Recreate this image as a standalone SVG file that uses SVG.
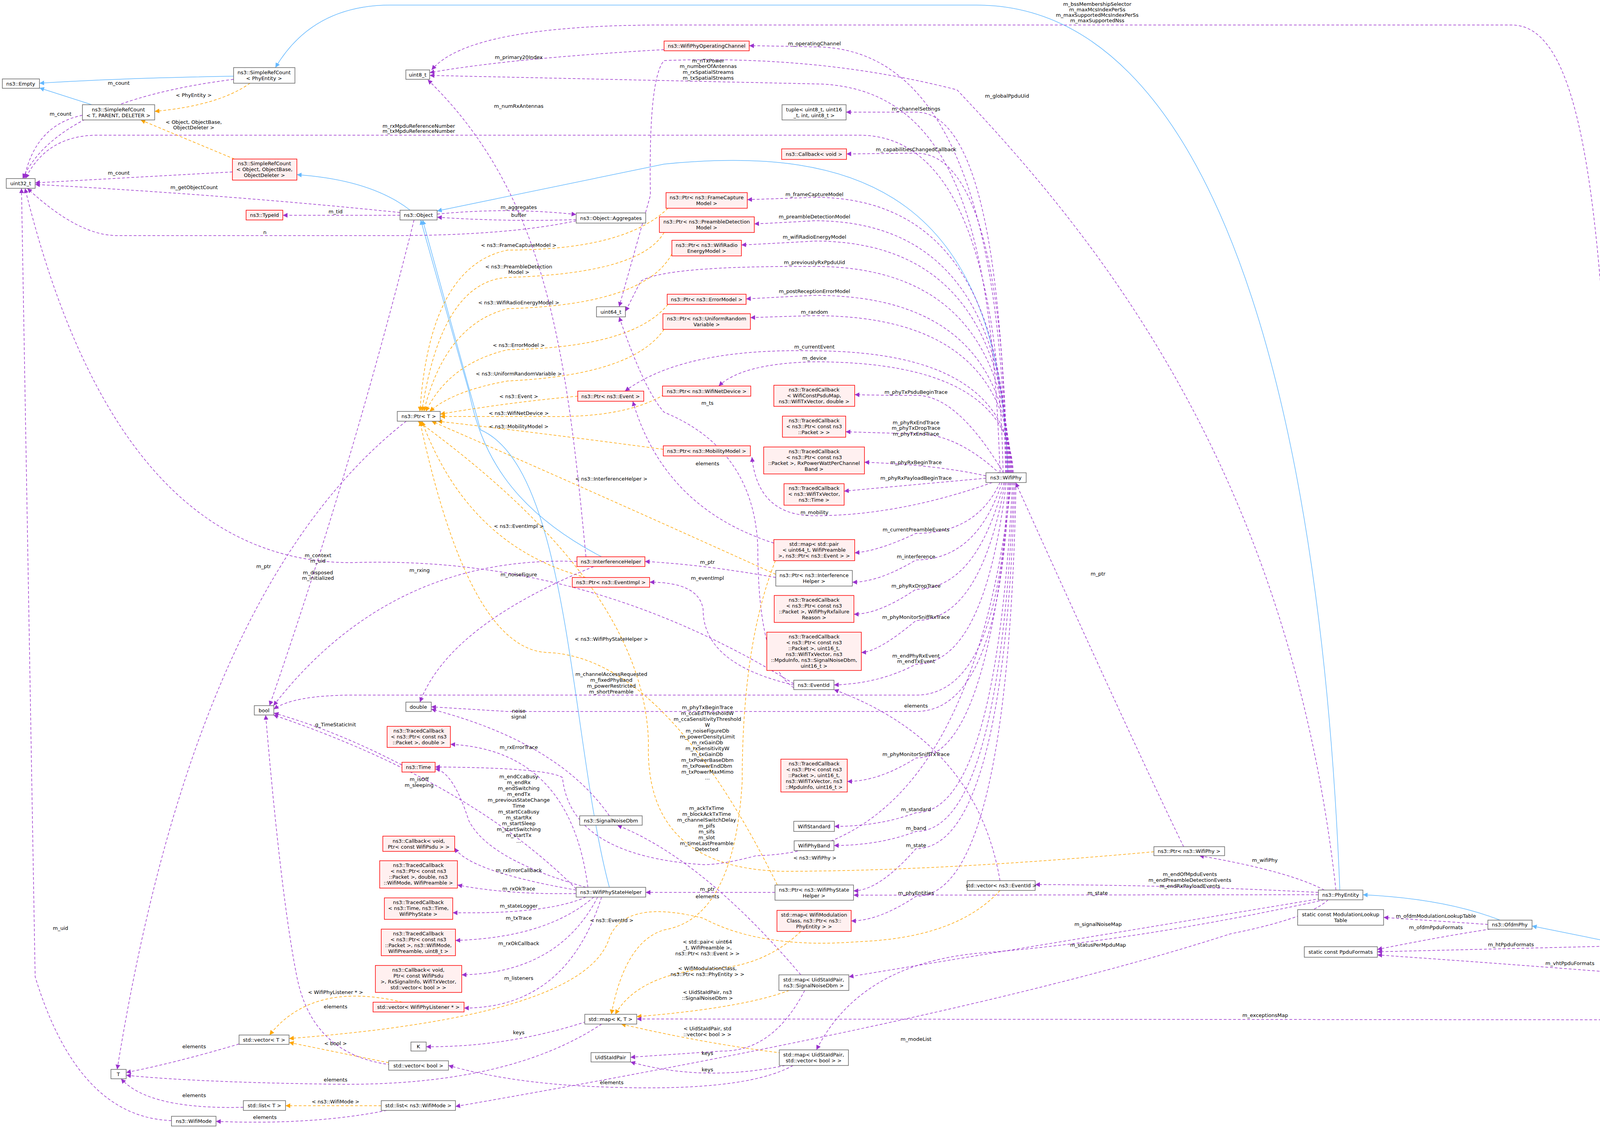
<svg xmlns="http://www.w3.org/2000/svg" width="4355" height="2887" viewBox="0 0 4355 2887">
<style>
text{font-family:"DejaVu Sans","Liberation Sans",sans-serif;font-size:13px;fill:#000;text-anchor:middle}
.n rect{fill:#fff;stroke:#666;stroke-width:1.5}
.r rect{fill:#fff0f0;stroke:#ff0000;stroke-width:1.5}
.g rect{fill:#999;stroke:#666;stroke-width:1.5}
.p{fill:none;stroke:#9a32cd;stroke-width:1.5;stroke-dasharray:7,5;marker-end:url(#mp)}
.o{fill:none;stroke:#ffa500;stroke-width:1.5;stroke-dasharray:7,5;marker-end:url(#mo)}
.b{fill:none;stroke:#63b8ff;stroke-width:1.5;marker-end:url(#mb)}
</style>
<defs>
<marker id="mp" viewBox="0 0 10 10" refX="10" refY="5" markerWidth="12" markerHeight="12" markerUnits="userSpaceOnUse" orient="auto"><path d="M0,0L10,5L0,10z" fill="#9a32cd"/></marker>
<marker id="mo" viewBox="0 0 10 10" refX="10" refY="5" markerWidth="12" markerHeight="12" markerUnits="userSpaceOnUse" orient="auto"><path d="M0,0L10,5L0,10z" fill="#ffa500"/></marker>
<marker id="mb" viewBox="0 0 10 10" refX="10" refY="5" markerWidth="12" markerHeight="12" markerUnits="userSpaceOnUse" orient="auto"><path d="M0,0L10,5L0,10z" fill="#63b8ff"/></marker>
</defs>
<rect width="4355" height="2887" fill="#fff"/>
<g id="connectors">
<!-- inheritance -->
<path class="b" d="M598,195 Q300,200 101,213"/>
<path class="b" d="M235,268 L101,225"/>
<path class="b" d="M1050,538 Q950,460 760,447"/>
<path class="b" d="M2580,1210 C2560,500 2200,370 1700,420 L1119,540"/>
<path class="b" d="M3430,2278 C3380,1000 3100,13 2500,13 L1000,13 Q800,13 705,173"/>
<path class="b" d="M1540,1425 C1300,1300 1230,1150 1200,1000 L1077,563"/>
<path class="b" d="M1560,2271 C1460,1900 1460,1200 1230,1100 L1082,563"/>
<path class="b" d="M3840,2355 Q3700,2300 3489,2290"/>
<path class="b" d="M4120,2410 L3922,2370"/>
<path class="b" d="M4273,2485 L4180,2433"/>
<!-- uint32_t etc -->
<path class="p" d="M598,203 Q150,260 58,457"/>
<path class="p" d="M211,295 Q90,320 62,457"/>
<path class="p" d="M595,440 L90,468"/>
<path class="p" d="M1024,544 Q600,500 90,472"/>
<path class="p" d="M1475,565 Q1300,603 1000,603 L300,603 Q200,603 70,482"/>
<path class="p" d="M439,2868 Q200,2860 90,2500 L55,482"/>
<path class="p" d="M2568,1210 Q2550,346 2200,346 L250,346 Q120,346 65,457"/>
<path class="p" d="M2032,1750 Q1500,1420 900,1440 Q300,1440 64,482"/>
<path class="p" d="M1024,551 L724,551"/>
<path class="p" d="M1119,548 Q1300,530 1475,549"/>
<path class="p" d="M1475,562 Q1300,568 1119,556"/>
<path class="p" d="M1060,563 Q900,1200 690,1806"/>
<path class="p" d="M1040,1078 Q500,1500 300,2737"/>
<path class="o" d="M640,213 Q560,270 396,285"/>
<path class="o" d="M600,407 L360,307"/>
<!-- uint8_t -->
<path class="p" d="M1700,127 Q1300,150 1100,186"/>
<path class="p" d="M4150,2410 C4130,800 4100,64 3870,64 L1700,64 Q1200,64 1105,179"/>
<path class="p" d="M1500,1425 C1450,900 1400,500 1095,204"/>
<path class="p" d="M2560,1210 C2540,600 2450,230 2100,215 L1100,193"/>
<path class="p" d="M3420,2278 C3300,1200 2800,600 2450,230 Q2100,140 1700,155 Q1660,200 1665,500 L1585,785"/>
<!-- WifiPhy outgoing -->
<path class="p" d="M2574,1210 Q2560,120 2085,120 Q2000,118 1918,117"/>
<path class="p" d="M2576,1210 Q2560,287 2345,287 L2166,287"/>
<path class="p" d="M2578,1210 Q2565,392 2345,392 L2167,394"/>
<path class="p" d="M2580,1210 Q2568,505 2085,505 Q2000,508 1913,511"/>
<path class="p" d="M2582,1210 Q2570,565 2085,565 Q2000,570 1931,573"/>
<path class="p" d="M2584,1210 Q2572,617 2085,617 Q2000,622 1898,627"/>
<path class="p" d="M2586,1210 Q2574,682 2085,682 Q1700,680 1640,720 Q1610,780 1601,797"/>
<path class="p" d="M2588,1210 Q2576,756 2085,756 Q2000,760 1910,765"/>
<path class="p" d="M2590,1210 Q2578,808 2085,808 Q2000,810 1921,813"/>
<path class="p" d="M2592,1210 Q2580,900 2085,898 Q1750,890 1600,1001"/>
<path class="p" d="M2594,1210 Q2582,926 2085,926 Q1900,930 1840,988"/>
<path class="p" d="M2570,1212 Q2450,1010 2345,1012 Q2260,1012 2188,1010"/>
<path class="p" d="M2560,1213 Q2450,1110 2345,1110 Q2250,1108 2165,1105"/>
<path class="p" d="M2524,1218 Q2400,1190 2213,1183"/>
<path class="p" d="M2524,1224 Q2400,1235 2161,1257"/>
<path class="p" d="M2540,1235 Q2300,1320 2085,1320 Q1940,1320 1925,1170"/>
<path class="p" d="M2560,1235 Q2500,1365 2345,1365 Q2250,1410 2188,1415"/>
<path class="p" d="M2565,1235 Q2500,1433 2345,1433 Q2250,1490 2182,1490"/>
<path class="p" d="M2570,1235 Q2500,1508 2345,1508 Q2250,1572 2186,1572"/>
<path class="p" d="M2573,1235 Q2510,1588 2345,1588 Q2250,1668 2205,1670"/>
<path class="p" d="M2576,1235 Q2520,1700 2345,1700 Q2250,1750 2135,1753"/>
<path class="p" d="M2580,1235 Q2560,1779 2345,1779 L900,1779 Q750,1780 701,1815"/>
<path class="p" d="M2583,1235 Q2560,1821 2345,1821 L1300,1821 Q1150,1812 1104,1809"/>
<path class="p" d="M2586,1235 Q2530,1940 2345,1940 Q2250,2000 2169,2000"/>
<path class="p" d="M2589,1235 Q2480,2180 1936,2190 Q1850,2213 1800,2213 Q1460,2190 1440,1990 Q1400,1965 1114,1963"/>
<path class="p" d="M2592,1235 Q2550,2080 2345,2080 Q2250,2115 2136,2115"/>
<path class="p" d="M2595,1235 Q2560,2128 2345,2128 Q2250,2164 2135,2164"/>
<path class="p" d="M2598,1235 Q2570,2172 2345,2172 Q2250,2280 2185,2280"/>
<path class="p" d="M2601,1235 Q2580,2294 2345,2294 Q2250,2357 2179,2357"/>
<!-- Ptr<T> template -->
<path class="o" d="M1710,533 Q1600,640 1300,640 Q1100,680 1075,1053"/>
<path class="o" d="M1700,595 Q1640,700 1300,710 Q1130,720 1080,1053"/>
<path class="o" d="M1720,650 Q1650,780 1300,790 Q1140,830 1085,1053"/>
<path class="o" d="M1710,779 Q1620,890 1300,895 Q1150,930 1090,1053"/>
<path class="o" d="M1700,843 Q1620,960 1300,975 Q1160,1000 1100,1053"/>
<path class="o" d="M1479,1014 Q1300,1030 1127,1060"/>
<path class="o" d="M1700,1010 Q1600,1070 1400,1066 L1127,1066"/>
<path class="o" d="M1698,1150 Q1400,1110 1120,1078"/>
<path class="o" d="M1986,1470 Q1500,1250 1105,1078"/>
<path class="o" d="M1500,1478 Q1200,1400 1080,1078"/>
<path class="o" d="M1990,2265 Q1700,1680 1400,1670 Q1200,1660 1075,1078"/>
<path class="o" d="M2954,2180 Q2400,2230 2000,2230 Q1650,2220 1660,1900 Q1650,1500 1070,1078"/>
<!-- misc -->
<path class="p" d="M1477,1437 Q1000,1420 700,1806"/>
<path class="p" d="M1520,1450 Q1150,1600 1075,1797"/>
<path class="p" d="M1986,1478 Q1800,1445 1651,1437"/>
<path class="p" d="M2032,1753 Q1800,1700 1800,1560 Q1790,1490 1663,1490"/>
<path class="p" d="M1981,1390 Q1700,1300 1620,1027"/>
<path class="p" d="M2032,1760 Q1940,1700 1940,1400 Q1930,1150 1700,1055 Q1650,1000 1585,811"/>
<path class="p" d="M2560,2254 Q2500,1900 2135,1765"/>
<path class="p" d="M1984,2284 L1653,2284"/>
<path class="p" d="M1475,2275 Q1200,2000 700,1830"/>
<path class="p" d="M1500,2271 Q1250,2200 1200,2100 Q1160,1975 1114,1968"/>
<path class="p" d="M1029,1958 Q860,1870 701,1825"/>
<path class="p" d="M1560,2088 Q1430,1900 1104,1815"/>
<path class="p" d="M1505,2271 Q1460,1920 1153,1905"/>
<path class="p" d="M1475,2278 Q1200,2230 1164,2170"/>
<path class="p" d="M1475,2287 Q1300,2290 1171,2265"/>
<path class="p" d="M1500,2296 Q1400,2340 1159,2336"/>
<path class="p" d="M1520,2296 Q1400,2400 1166,2407"/>
<path class="p" d="M1530,2296 Q1430,2490 1182,2495"/>
<path class="p" d="M1540,2296 Q1450,2580 1188,2580"/>
<path class="p" d="M2050,2495 Q1800,2200 1580,2112"/>
<!-- map<K,T> templates -->
<path class="o" d="M1985,1435 Q1900,1650 1900,2000 Q1880,2350 1700,2380 Q1600,2410 1565,2596"/>
<path class="o" d="M2050,2384 Q1950,2480 1800,2480 Q1630,2500 1575,2596"/>
<path class="o" d="M2020,2535 Q1900,2580 1630,2602"/>
<path class="o" d="M2000,2695 Q1800,2670 1590,2621"/>
<path class="o" d="M2560,2279 Q2450,2400 2200,2410 Q1950,2430 1800,2350 Q1600,2300 1560,2400 Q1500,2600 740,2658"/>
<path class="o" d="M1030,2565 Q800,2510 690,2649"/>
<path class="o" d="M995,2720 L740,2668"/>
<path class="o" d="M976,2830 L731,2830"/>
<path class="p" d="M612,2672 Q450,2720 323,2745"/>
<path class="p" d="M1540,2621 Q1300,2780 860,2775 Q500,2770 323,2752"/>
<path class="p" d="M623,2834 Q380,2840 310,2761"/>
<path class="p" d="M1500,2615 Q1300,2680 1091,2679"/>
<path class="p" d="M1000,2725 Q800,2700 760,2500 Q720,2300 680,1830"/>
<path class="p" d="M990,2842 Q800,2880 553,2870"/>
<path class="p" d="M2060,2535 Q1980,2690 1850,2690 Q1700,2700 1614,2706"/>
<path class="p" d="M2010,2727 Q1800,2770 1614,2718"/>
<path class="p" d="M2030,2727 Q1900,2800 1500,2780 Q1300,2770 1148,2727"/>
<!-- PhyEntity etc -->
<path class="p" d="M3390,2278 Q3300,2230 3070,2190"/>
<path class="p" d="M3375,2284 Q3000,2265 2650,2264"/>
<path class="p" d="M3375,2290 L2185,2291"/>
<path class="p" d="M3380,2300 Q2900,2380 2173,2500"/>
<path class="p" d="M3390,2303 Q2900,2410 2500,2440 Q2200,2470 2090,2687"/>
<path class="p" d="M3400,2303 Q3350,2350 3150,2390 Q2500,2600 1166,2832"/>
<path class="p" d="M4250,2498 Q3900,2470 3526,2444"/>
<path class="p" d="M4106,2422 L3526,2436"/>
<path class="p" d="M3809,2366 L3542,2348"/>
<path class="p" d="M3815,2378 Q3700,2395 3526,2430"/>
<path class="p" d="M4290,2511 Q4220,2610 4150,2610 L1630,2608"/>
<path class="p" d="M3030,2167 Q2900,1900 2600,1235"/>
</g>
<g id="labels">
<text x="304" y="217">m_count</text>
<text x="496" y="248">&lt; PhyEntity &gt;</text>
<text x="155" y="296">m_count</text>
<text x="496" y="317">&lt; Object, ObjectBase,</text><text x="496" y="331">ObjectDeleter &gt;</text>
<text x="1072" y="327">m_rxMpduReferenceNumber</text><text x="1072" y="340">m_txMpduReferenceNumber</text>
<text x="1328" y="151">m_primary20Index</text>
<text x="1328" y="276">m_numRxAntennas</text>
<text x="304" y="447">m_count</text>
<text x="497" y="484">m_getObjectCount</text>
<text x="859" y="546">m_tid</text>
<text x="1328" y="535">m_aggregates</text>
<text x="1328" y="555">buffer</text>
<text x="678" y="599">n</text>
<text x="1328" y="632">&lt; ns3::FrameCaptureModel &gt;</text>
<text x="1328" y="687">&lt; ns3::PreambleDetection</text><text x="1328" y="701">Model &gt;</text>
<text x="1328" y="779">&lt; ns3::WifiRadioEnergyModel &gt;</text>
<text x="1328" y="888">&lt; ns3::ErrorModel &gt;</text>
<text x="1328" y="961">&lt; ns3::UniformRandomVariable &gt;</text>
<text x="2809" y="15">m_bssMembershipSelector</text><text x="2809" y="29">m_maxMcsIndexPerSs</text><text x="2809" y="43">m_maxSupportedMcsIndexPerSs</text><text x="2809" y="57">m_maxSupportedNss</text>
<text x="2085" y="116">m_operatingChannel</text>
<text x="1813" y="160">m_nTxPower</text><text x="1813" y="174">m_numberOfAntennas</text><text x="1813" y="189">m_rxSpatialStreams</text><text x="1813" y="204">m_txSpatialStreams</text>
<text x="2578" y="250">m_globalPpduUid</text>
<text x="2345" y="283">m_channelSettings</text>
<text x="2345" y="387">m_capabilitiesChangedCallback</text>
<text x="2085" y="502">m_frameCaptureModel</text>
<text x="2085" y="559">m_preambleDetectionModel</text>
<text x="2085" y="611">m_wifiRadioEnergyModel</text>
<text x="2085" y="676">m_previouslyRxPpduUid</text>
<text x="2085" y="750">m_postReceptionErrorModel</text>
<text x="2085" y="803">m_random</text>
<text x="2085" y="892">m_currentEvent</text>
<text x="2085" y="921">m_device</text>
<text x="1328" y="1019">&lt; ns3::Event &gt;</text>
<text x="1328" y="1062">&lt; ns3::WifiNetDevice &gt;</text>
<text x="1328" y="1096">&lt; ns3::MobilityModel &gt;</text>
<text x="1811" y="1036">m_ts</text>
<text x="2345" y="1008">m_phyTxPsduBeginTrace</text>
<text x="2345" y="1086">m_phyRxEndTrace</text><text x="2345" y="1100">m_phyTxDropTrace</text><text x="2345" y="1115">m_phyTxEndTrace</text>
<text x="2345" y="1188">m_phyRxBeginTrace</text>
<text x="2345" y="1228">m_phyRxPayloadBeginTrace</text>
<text x="1811" y="1191">elements</text>
<text x="1565" y="1230">&lt; ns3::InterferenceHelper &gt;</text>
<text x="2085" y="1316">m_mobility</text>
<text x="2345" y="1360">m_currentPreambleEvents</text>
<text x="2345" y="1429">m_interference</text>
<text x="1811" y="1443">m_ptr</text>
<text x="1811" y="1484">m_eventImpl</text>
<text x="2345" y="1504">m_phyRxDropTrace</text>
<text x="2345" y="1584">m_phyMonitorSniffRxTrace</text>
<text x="1328" y="1351">&lt; ns3::EventImpl &gt;</text>
<text x="1074" y="1464">m_rxing</text>
<text x="1328" y="1475">m_noiseFigure</text>
<text x="675" y="1454">m_ptr</text>
<text x="814" y="1426">m_context</text><text x="814" y="1440">m_uid</text>
<text x="814" y="1470">m_disposed</text><text x="814" y="1484">m_initialized</text>
<text x="1565" y="1640">&lt; ns3::WifiPhyStateHelper &gt;</text>
<text x="2345" y="1683">m_endPhyRxEvent</text><text x="2345" y="1697">m_endTxEvent</text>
<text x="1565" y="1730">m_channelAccessRequested</text><text x="1565" y="1745">m_fixedPhyBand</text><text x="1565" y="1760">m_powerRestricted</text><text x="1565" y="1775">m_shortPreamble</text>
<text x="2345" y="1811">elements</text>
<text x="1811" y="1815">m_phyTxBeginTrace</text><text x="1811" y="1830">m_ccaEdThresholdW</text><text x="1811" y="1845">m_ccaSensitivityThreshold</text><text x="1811" y="1860">W</text><text x="1811" y="1875">m_noiseFigureDb</text><text x="1811" y="1890">m_powerDensityLimit</text><text x="1811" y="1905">m_rxGainDb</text><text x="1811" y="1920">m_rxSensitivityW</text><text x="1811" y="1935">m_txGainDb</text><text x="1811" y="1950">m_txPowerBaseDbm</text><text x="1811" y="1965">m_txPowerEndDbm</text><text x="1811" y="1980">m_txPowerMaxMimo</text><text x="1811" y="1995">...</text>
<text x="2345" y="1935">m_phyMonitorSniffTxTrace</text>
<text x="1328" y="1824">noise</text><text x="1328" y="1839">signal</text>
<text x="859" y="1859">g_TimeStaticInit</text>
<text x="1328" y="1917">m_rxErrorTrace</text>
<text x="1073" y="1999">m_isOff</text><text x="1073" y="2014">m_sleeping</text>
<text x="1328" y="1992">m_endCcaBusy</text><text x="1328" y="2007">m_endRx</text><text x="1328" y="2022">m_endSwitching</text><text x="1328" y="2037">m_endTx</text><text x="1328" y="2052">m_previousStateChange</text><text x="1328" y="2067">Time</text><text x="1328" y="2082">m_startCcaBusy</text><text x="1328" y="2097">m_startRx</text><text x="1328" y="2112">m_startSleep</text><text x="1328" y="2127">m_startSwitching</text><text x="1328" y="2142">m_startTx</text><text x="1328" y="2157">...</text>
<text x="1809" y="2073">m_ackTxTime</text><text x="1809" y="2088">m_blockAckTxTime</text><text x="1809" y="2103">m_channelSwitchDelay</text><text x="1809" y="2118">m_pifs</text><text x="1809" y="2133">m_sifs</text><text x="1809" y="2148">m_slot</text><text x="1809" y="2163">m_timeLastPreamble</text><text x="1809" y="2178">Detected</text>
<text x="2345" y="2076">m_standard</text>
<text x="2345" y="2124">m_band</text>
<text x="2345" y="2168">m_state</text>
<text x="2086" y="2200">&lt; ns3::WifiPhy &gt;</text>
<text x="1328" y="2232">m_rxErrorCallback</text>
<text x="1328" y="2279">m_rxOkTrace</text>
<text x="1811" y="2280">m_ptr</text><text x="1811" y="2299">elements</text>
<text x="2345" y="2290">m_phyEntities</text>
<text x="2810" y="2290">m_state</text>
<text x="1328" y="2323">m_stateLogger</text>
<text x="1328" y="2354">m_txTrace</text>
<text x="1566" y="2360">&lt; ns3::EventId &gt;</text>
<text x="2811" y="2370">m_signalNoiseMap</text>
<text x="2811" y="2423">m_statusPerMpduMap</text>
<text x="1328" y="2419">m_rxOkCallback</text>
<text x="1811" y="2415">&lt; std::pair&lt; uint64</text><text x="1811" y="2430">_t, WifiPreamble &gt;,</text><text x="1811" y="2445">ns3::Ptr&lt; ns3::Event &gt; &gt;</text>
<text x="1811" y="2483">&lt; WifiModulationClass,</text><text x="1811" y="2498">ns3::Ptr&lt; ns3::PhyEntity &gt; &gt;</text>
<text x="1328" y="2508">m_listeners</text>
<text x="859" y="2544">&lt; WifiPhyListener * &gt;</text>
<text x="1811" y="2544">&lt; UidStaIdPair, ns3</text><text x="1811" y="2559">::SignalNoiseDbm &gt;</text>
<text x="859" y="2581">elements</text>
<text x="155" y="2380">m_uid</text>
<text x="2811" y="1473">m_ptr</text>
<text x="3238" y="2206">m_wifiPhy</text>
<text x="3046" y="2242">m_endOfMpduEvents</text><text x="3046" y="2257">m_endPreambleDetectionEvents</text><text x="3046" y="2272">m_endRxPayloadEvents</text>
<text x="3676" y="2349">m_ofdmModulationLookupTable</text>
<text x="3676" y="2378">m_ofdmPpduFormats</text>
<text x="3868" y="2422">m_htPpduFormats</text>
<text x="4019" y="2470">m_vhtPpduFormats</text>
<text x="3239" y="2603">m_exceptionsMap</text>
<text x="1811" y="2637">&lt; UidStaIdPair, std</text><text x="1811" y="2652">::vector&lt; bool &gt; &gt;</text>
<text x="2345" y="2664">m_modeList</text>
<text x="1328" y="2647">keys</text>
<text x="859" y="2675">&lt; bool &gt;</text>
<text x="497" y="2683">elements</text>
<text x="1811" y="2700">keys</text>
<text x="1811" y="2742">keys</text>
<text x="859" y="2768">elements</text>
<text x="1566" y="2775">elements</text>
<text x="497" y="2808">elements</text>
<text x="859" y="2824">&lt; ns3::WifiMode &gt;</text>
<text x="678" y="2864">elements</text>
</g>
<g id="Empty" class="n"><rect x="6" y="202" width="95" height="24"/><text x="53" y="219">ns3::Empty</text></g>
<g id="SRC_PhyEntity" class="n"><rect x="598" y="173" width="157" height="40"/><text x="676" y="190">ns3::SimpleRefCount</text><text x="676" y="205">&lt; PhyEntity &gt;</text></g>
<g id="SRC_T" class="n"><rect x="211" y="268" width="185" height="39"/><text x="303" y="285">ns3::SimpleRefCount</text><text x="303" y="300">&lt; T, PARENT, DELETER &gt;</text></g>
<g id="uint8" class="n"><rect x="1039" y="179" width="61" height="24"/><text x="1069" y="196">uint8_t</text></g>
<g id="SRC_Object" class="r"><rect x="595" y="407" width="165" height="54"/><text x="677" y="423">ns3::SimpleRefCount</text><text x="677" y="438">&lt; Object, ObjectBase,</text><text x="677" y="453">ObjectDeleter &gt;</text></g>
<g id="uint32" class="n"><rect x="16" y="457" width="74" height="25"/><text x="53" y="474">uint32_t</text></g>
<g id="TypeId" class="r"><rect x="630" y="538" width="94" height="25"/><text x="677" y="555">ns3::TypeId</text></g>
<g id="Object" class="n"><rect x="1024" y="538" width="95" height="25"/><text x="1071" y="555">ns3::Object</text></g>
<g id="Aggregates" class="n"><rect x="1475" y="545" width="178" height="26"/><text x="1564" y="563">ns3::Object::Aggregates</text></g>
<g id="uint64" class="n"><rect x="1527" y="785" width="74" height="26"/><text x="1564" y="803">uint64_t</text></g>
<g id="OpChannel" class="r"><rect x="1700" y="105" width="218" height="25"/><text x="1809" y="122">ns3::WifiPhyOperatingChannel</text></g>
<g id="tuple" class="n"><rect x="2002" y="268" width="164" height="39"/><text x="2084" y="285">tuple&lt; uint8_t, uint16</text><text x="2084" y="300">_t, int, uint8_t &gt;</text></g>
<g id="CbVoid" class="r"><rect x="2001" y="381" width="166" height="27"/><text x="2084" y="399">ns3::Callback&lt; void &gt;</text></g>
<g id="PtrFrame" class="r"><rect x="1705" y="493" width="208" height="40"/><text x="1809" y="510">ns3::Ptr&lt; ns3::FrameCapture</text><text x="1809" y="525">Model &gt;</text></g>
<g id="PtrPreamble" class="r"><rect x="1688" y="555" width="243" height="40"/><text x="1809" y="572">ns3::Ptr&lt; ns3::PreambleDetection</text><text x="1809" y="587">Model &gt;</text></g>
<g id="PtrEnergy" class="r"><rect x="1720" y="615" width="178" height="40"/><text x="1809" y="632">ns3::Ptr&lt; ns3::WifiRadio</text><text x="1809" y="647">EnergyModel &gt;</text></g>
<g id="PtrError" class="r"><rect x="1708" y="753" width="202" height="26"/><text x="1809" y="771">ns3::Ptr&lt; ns3::ErrorModel &gt;</text></g>
<g id="PtrRandom" class="r"><rect x="1697" y="803" width="224" height="40"/><text x="1809" y="820">ns3::Ptr&lt; ns3::UniformRandom</text><text x="1809" y="835">Variable &gt;</text></g>
<g id="PtrT" class="n"><rect x="1017" y="1053" width="110" height="25"/><text x="1072" y="1070">ns3::Ptr&lt; T &gt;</text></g>
<g id="PtrEvent" class="r"><rect x="1479" y="1001" width="169" height="26"/><text x="1563" y="1019">ns3::Ptr&lt; ns3::Event &gt;</text></g>
<g id="PtrNetDev" class="r"><rect x="1696" y="988" width="226" height="26"/><text x="1809" y="1006">ns3::Ptr&lt; ns3::WifiNetDevice &gt;</text></g>
<g id="TcPsdu" class="r"><rect x="1981" y="986" width="207" height="54"/><text x="2084" y="1002">ns3::TracedCallback</text><text x="2084" y="1017">&lt; WifiConstPsduMap,</text><text x="2084" y="1032">ns3::WifiTxVector, double &gt;</text></g>
<g id="TcPacket" class="r"><rect x="2003" y="1065" width="162" height="54"/><text x="2084" y="1081">ns3::TracedCallback</text><text x="2084" y="1096">&lt; ns3::Ptr&lt; const ns3</text><text x="2084" y="1111">::Packet &gt; &gt;</text></g>
<g id="TcRxPower" class="r"><rect x="1955" y="1144" width="258" height="69"/><text x="2084" y="1160">ns3::TracedCallback</text><text x="2084" y="1175">&lt; ns3::Ptr&lt; const ns3</text><text x="2084" y="1190">::Packet &gt;, RxPowerWattPerChannel</text><text x="2084" y="1205">Band &gt;</text></g>
<g id="TcTxVecTime" class="r"><rect x="2007" y="1238" width="154" height="55"/><text x="2084" y="1254">ns3::TracedCallback</text><text x="2084" y="1269">&lt; ns3::WifiTxVector,</text><text x="2084" y="1284">ns3::Time &gt;</text></g>
<g id="PtrMobility" class="r"><rect x="1698" y="1141" width="223" height="26"/><text x="1809" y="1159">ns3::Ptr&lt; ns3::MobilityModel &gt;</text></g>
<g id="WifiPhy" class="n"><rect x="2524" y="1210" width="103" height="25"/><text x="2575" y="1227">ns3::WifiPhy</text></g>
<g id="MapPair" class="r"><rect x="1981" y="1381" width="207" height="54"/><text x="2084" y="1397">std::map&lt; std::pair</text><text x="2084" y="1412">&lt; uint64_t, WifiPreamble</text><text x="2084" y="1427">&gt;, ns3::Ptr&lt; ns3::Event &gt; &gt;</text></g>
<g id="InterfHelper" class="r"><rect x="1477" y="1425" width="174" height="25"/><text x="1564" y="1442">ns3::InterferenceHelper</text></g>
<g id="PtrEventImpl" class="r"><rect x="1465" y="1478" width="198" height="25"/><text x="1564" y="1495">ns3::Ptr&lt; ns3::EventImpl &gt;</text></g>
<g id="PtrInterf" class="n"><rect x="1986" y="1460" width="196" height="40"/><text x="2084" y="1477">ns3::Ptr&lt; ns3::Interference</text><text x="2084" y="1492">Helper &gt;</text></g>
<g id="TcRxFail" class="r"><rect x="1982" y="1524" width="204" height="69"/><text x="2084" y="1540">ns3::TracedCallback</text><text x="2084" y="1555">&lt; ns3::Ptr&lt; const ns3</text><text x="2084" y="1570">::Packet &gt;, WifiPhyRxfailure</text><text x="2084" y="1585">Reason &gt;</text></g>
<g id="TcMpduSnd" class="r"><rect x="1963" y="1618" width="242" height="98"/><text x="2084" y="1634">ns3::TracedCallback</text><text x="2084" y="1649">&lt; ns3::Ptr&lt; const ns3</text><text x="2084" y="1664">::Packet &gt;, uint16_t,</text><text x="2084" y="1679">ns3::WifiTxVector, ns3</text><text x="2084" y="1694">::MpduInfo, ns3::SignalNoiseDbm,</text><text x="2084" y="1709">uint16_t &gt;</text></g>
<g id="EventId" class="n"><rect x="2032" y="1741" width="103" height="24"/><text x="2083" y="1758">ns3::EventId</text></g>
<g id="bool" class="n"><rect x="651" y="1806" width="50" height="24"/><text x="676" y="1823">bool</text></g>
<g id="double" class="n"><rect x="1039" y="1797" width="65" height="24"/><text x="1071" y="1814">double</text></g>
<g id="TcPacketDouble" class="r"><rect x="991" y="1859" width="162" height="54"/><text x="1072" y="1875">ns3::TracedCallback</text><text x="1072" y="1890">&lt; ns3::Ptr&lt; const ns3</text><text x="1072" y="1905">::Packet &gt;, double &gt;</text></g>
<g id="Time" class="r"><rect x="1029" y="1951" width="85" height="25"/><text x="1071" y="1968">ns3::Time</text></g>
<g id="SignalNoiseDbm" class="n"><rect x="1484" y="2088" width="160" height="24"/><text x="1564" y="2105">ns3::SignalNoiseDbm</text></g>
<g id="CbPsdu" class="r"><rect x="980" y="2140" width="184" height="39"/><text x="1072" y="2157">ns3::Callback&lt; void,</text><text x="1072" y="2172">Ptr&lt; const WifiPsdu &gt; &gt;</text></g>
<g id="TcRxOkTrace" class="r"><rect x="972" y="2203" width="199" height="70"/><text x="1071" y="2219">ns3::TracedCallback</text><text x="1071" y="2234">&lt; ns3::Ptr&lt; const ns3</text><text x="1071" y="2249">::Packet &gt;, double, ns3</text><text x="1071" y="2264">::WifiMode, WifiPreamble &gt;</text></g>
<g id="StateHelper" class="n"><rect x="1475" y="2271" width="178" height="25"/><text x="1564" y="2288">ns3::WifiPhyStateHelper</text></g>
<g id="TcTime" class="r"><rect x="984" y="2298" width="175" height="55"/><text x="1071" y="2314">ns3::TracedCallback</text><text x="1071" y="2329">&lt; ns3::Time, ns3::Time,</text><text x="1071" y="2344">WifiPhyState &gt;</text></g>
<g id="TcTx" class="r"><rect x="976" y="2378" width="190" height="68"/><text x="1071" y="2394">ns3::TracedCallback</text><text x="1071" y="2409">&lt; ns3::Ptr&lt; const ns3</text><text x="1071" y="2424">::Packet &gt;, ns3::WifiMode,</text><text x="1071" y="2439">WifiPreamble, uint8_t &gt;</text></g>
<g id="CbRxOk" class="r"><rect x="961" y="2471" width="221" height="69"/><text x="1071" y="2487">ns3::Callback&lt; void,</text><text x="1071" y="2502">Ptr&lt; const WifiPsdu</text><text x="1071" y="2517">&gt;, RxSignalInfo, WifiTxVector,</text><text x="1071" y="2532">std::vector&lt; bool &gt; &gt;</text></g>
<g id="VecListener" class="r"><rect x="955" y="2565" width="233" height="25"/><text x="1071" y="2582">std::vector&lt; WifiPhyListener * &gt;</text></g>
<g id="VecT" class="n"><rect x="612" y="2649" width="128" height="24"/><text x="676" y="2666">std::vector&lt; T &gt;</text></g>
<g id="MapKT" class="n"><rect x="1497" y="2596" width="133" height="25"/><text x="1563" y="2613">std::map&lt; K, T &gt;</text></g>
<g id="K" class="n"><rect x="1052" y="2667" width="39" height="23"/><text x="1071" y="2683">K</text></g>
<g id="UidStaIdPair" class="n"><rect x="1513" y="2694" width="101" height="24"/><text x="1563" y="2711">UidStaIdPair</text></g>
<g id="T" class="n"><rect x="284" y="2737" width="39" height="24"/><text x="303" y="2754">T</text></g>
<g id="VecBool" class="n"><rect x="995" y="2715" width="153" height="24"/><text x="1071" y="2732">std::vector&lt; bool &gt;</text></g>
<g id="ListT" class="n"><rect x="623" y="2817" width="108" height="25"/><text x="677" y="2834">std::list&lt; T &gt;</text></g>
<g id="ListMode" class="n"><rect x="976" y="2817" width="190" height="25"/><text x="1071" y="2834">std::list&lt; ns3::WifiMode &gt;</text></g>
<g id="WifiMode" class="n"><rect x="439" y="2857" width="114" height="25"/><text x="496" y="2874">ns3::WifiMode</text></g>
<g id="TcMpdu16" class="r"><rect x="1999" y="1943" width="170" height="84"/><text x="2084" y="1959">ns3::TracedCallback</text><text x="2084" y="1974">&lt; ns3::Ptr&lt; const ns3</text><text x="2084" y="1989">::Packet &gt;, uint16_t,</text><text x="2084" y="2004">ns3::WifiTxVector, ns3</text><text x="2084" y="2019">::MpduInfo, uint16_t &gt;</text></g>
<g id="WifiStandard" class="n"><rect x="2032" y="2102" width="104" height="26"/><text x="2084" y="2120">WifiStandard</text></g>
<g id="WifiPhyBand" class="n"><rect x="2033" y="2152" width="102" height="25"/><text x="2084" y="2169">WifiPhyBand</text></g>
<g id="PtrStateHelper" class="n"><rect x="1984" y="2265" width="201" height="39"/><text x="2084" y="2282">ns3::Ptr&lt; ns3::WifiPhyState</text><text x="2084" y="2297">Helper &gt;</text></g>
<g id="VecEventId" class="n"><rect x="2476" y="2254" width="174" height="25"/><text x="2563" y="2271">std::vector&lt; ns3::EventId &gt;</text></g>
<g id="MapModClass" class="r"><rect x="1989" y="2330" width="190" height="54"/><text x="2084" y="2346">std::map&lt; WifiModulation</text><text x="2084" y="2361">Class, ns3::Ptr&lt; ns3::</text><text x="2084" y="2376">PhyEntity &gt; &gt;</text></g>
<g id="MapUidSnd" class="n"><rect x="1994" y="2495" width="179" height="40"/><text x="2083" y="2512">std::map&lt; UidStaIdPair,</text><text x="2083" y="2527">ns3::SignalNoiseDbm &gt;</text></g>
<g id="MapUidVec" class="n"><rect x="1995" y="2687" width="177" height="40"/><text x="2083" y="2704">std::map&lt; UidStaIdPair,</text><text x="2083" y="2719">std::vector&lt; bool &gt; &gt;</text></g>
<g id="PtrWifiPhy" class="n"><rect x="2954" y="2167" width="181" height="23"/><text x="3044" y="2183">ns3::Ptr&lt; ns3::WifiPhy &gt;</text></g>
<g id="PhyEntity" class="n"><rect x="3375" y="2278" width="114" height="25"/><text x="3432" y="2295">ns3::PhyEntity</text></g>
<g id="ModLookup" class="n"><rect x="3322" y="2328" width="220" height="40"/><text x="3432" y="2345">static const ModulationLookup</text><text x="3432" y="2360">Table</text></g>
<g id="OfdmPhy" class="n"><rect x="3809" y="2355" width="113" height="23"/><text x="3865" y="2371">ns3::OfdmPhy</text></g>
<g id="PpduFormats" class="n"><rect x="3339" y="2423" width="187" height="27"/><text x="3432" y="2441">static const PpduFormats</text></g>
<g id="HtPhy" class="n"><rect x="4106" y="2410" width="92" height="23"/><text x="4152" y="2426">ns3::HtPhy</text></g>
<g id="VhtPhy" class="g"><rect x="4250" y="2485" width="97" height="26"/><text x="4298" y="2503">ns3::VhtPhy</text></g>
</svg>
